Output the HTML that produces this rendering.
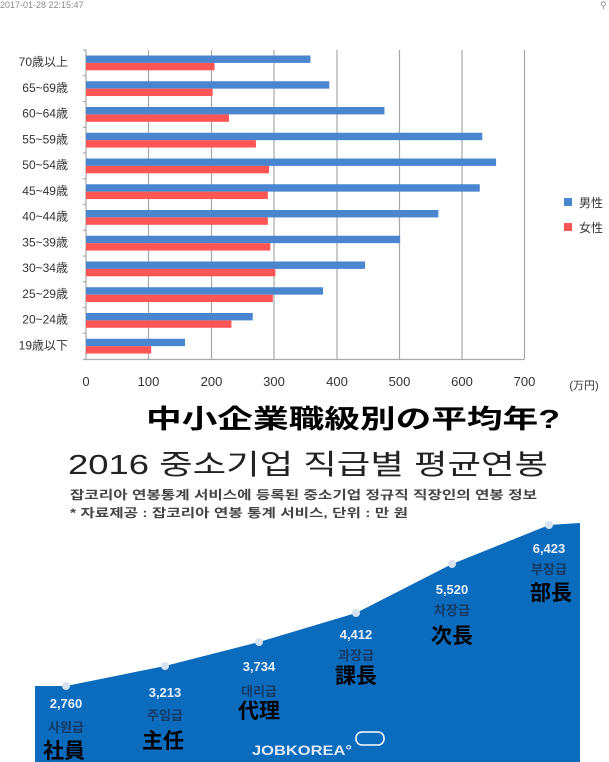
<!DOCTYPE html>
<html><head><meta charset="utf-8"><style>
body{margin:0;width:609px;height:762px;overflow:hidden;background:#fff;font-family:"Liberation Sans","Noto Sans CJK JP",sans-serif;}
</style></head><body>
<svg width="609" height="762" xmlns="http://www.w3.org/2000/svg" style="position:absolute;left:0;top:0">
<text x="0" y="8" font-size="9" fill="#888">2017-01-28 22:15:47</text>
<text x="600" y="8" font-size="9" fill="#888">⚲</text>
<g stroke="#a8a8a8" stroke-width="1.2">
<line x1="148.5" y1="50" x2="148.5" y2="359"/><line x1="211.5" y1="50" x2="211.5" y2="359"/>
<line x1="274" y1="50" x2="274" y2="359"/><line x1="337" y1="50" x2="337" y2="359"/>
<line x1="399.5" y1="50" x2="399.5" y2="359"/><line x1="462" y1="50" x2="462" y2="359"/>
<line x1="524.5" y1="50" x2="524.5" y2="359"/>
<line x1="86" y1="50" x2="86" y2="359"/><line x1="83" y1="359.5" x2="524.5" y2="359.5"/>
</g>
<g id="ticks" stroke="#a8a8a8" stroke-width="1.2"></g>
<g id="bars"></g>
<g font-size="12" fill="#333" text-anchor="end" id="cats"></g>
<g font-size="13" fill="#333" text-anchor="middle">
<text x="86" y="386">0</text><text x="148.5" y="386">100</text><text x="211.5" y="386">200</text><text x="274" y="386">300</text><text x="337" y="386">400</text><text x="399.5" y="386">500</text><text x="462" y="386">600</text><text x="524.5" y="386">700</text>
<text x="584" y="389" font-size="11">(万円)</text>
</g>
<rect x="564" y="198" width="8" height="8" fill="#4a86d0"/><text x="579" y="207" font-size="12" fill="#333">男性</text>
<rect x="564" y="223" width="8" height="8" fill="#f55"/><text x="579" y="232" font-size="12" fill="#333">女性</text>

<text x="146" y="428" font-size="26" font-weight="bold" fill="#000" textLength="414" lengthAdjust="spacingAndGlyphs">中小企業職級別の平均年?</text>
<text x="68" y="474" font-size="28" fill="#222" textLength="480" lengthAdjust="spacingAndGlyphs">2016 중소기업 직급별 평균연봉</text>
<text x="70" y="499" font-size="12" fill="#444" font-weight="bold" textLength="467" lengthAdjust="spacingAndGlyphs">잡코리아 연봉통계 서비스에 등록된 중소기업 정규직 직장인의 연봉 정보</text>
<text x="70" y="517" font-size="12" fill="#444" font-weight="bold" textLength="338" lengthAdjust="spacingAndGlyphs">* 자료제공 : 잡코리아 연봉 통계 서비스, 단위 : 만 원</text>
<path d="M35,686 L66,686 L165,666 L259,642 L356,613 L452,564 L549,525 L580,523 L580,762 L35,762 Z" fill="#0b6bbd"/>
<g fill="#d6e2ef"><circle cx="66" cy="686" r="4"/><circle cx="165" cy="666" r="4"/><circle cx="259" cy="642" r="4"/><circle cx="356" cy="613" r="4"/><circle cx="452" cy="564" r="4"/><circle cx="549" cy="525" r="4"/></g>
<g font-size="13" font-weight="bold" fill="#e8f0fa" text-anchor="middle">
<text x="66" y="708">2,760</text><text x="165" y="697">3,213</text><text x="259" y="671">3,734</text><text x="356" y="639">4,412</text><text x="452" y="594">5,520</text><text x="549" y="553">6,423</text>
</g>
<g font-size="13" font-weight="bold" fill="#143a66" text-anchor="middle">
<text x="66" y="732">사원급</text><text x="165" y="720">주임급</text><text x="259" y="696">대리급</text><text x="356" y="660">과장급</text><text x="452" y="615">차장급</text><text x="549" y="574">부장급</text>
</g>
<g font-size="21" font-weight="bold" fill="#000" text-anchor="middle">
<text x="64" y="758">社員</text><text x="163" y="748">主任</text><text x="259" y="718">代理</text><text x="356" y="683">課長</text><text x="452" y="643">次長</text><text x="551" y="600">部長</text>
</g>
<text x="252" y="755" font-size="14" font-weight="bold" fill="#e0eaf6" textLength="100" lengthAdjust="spacingAndGlyphs">JOBKOREA°</text>
<rect x="356" y="732" width="28" height="13" rx="6" fill="none" stroke="#fff" stroke-width="1.5"/>
</svg>
<script>
var m=[358,388,476,632,654,628,562,501,445,378,266,158],f=[205,202,228,271,292,290,290,294,302,298,232,104];
var c=["70歳以上","65~69歳","60~64歳","55~59歳","50~54歳","45~49歳","40~44歳","35~39歳","30~34歳","25~29歳","20~24歳","19歳以下"];
var b="",t="",k="",s=0.627,h=25.75;
for(var i=0;i<12;i++){var y=50+h*i;
b+='<rect x="86" y="'+(y+5.5)+'" width="'+(m[i]*s)+'" height="7.4" fill="#4a86d0"/>';
b+='<rect x="86" y="'+(y+12.9)+'" width="'+(f[i]*s)+'" height="7.4" fill="#f55"/>';
t+='<text x="68" y="'+(y+16)+'">'+c[i]+'</text>';
k+='<line x1="83" y1="'+y+'" x2="86" y2="'+y+'"/>';}
document.getElementById("bars").innerHTML=b;document.getElementById("cats").innerHTML=t;document.getElementById("ticks").innerHTML=k;
</script>
</body></html>
